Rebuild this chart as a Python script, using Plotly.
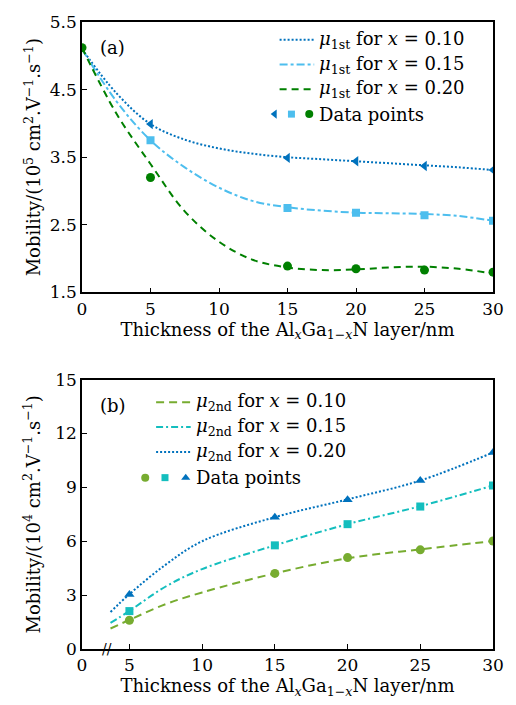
import plotly.graph_objects as go

# ---------------- data: panel (a), first-subband mobility (10^5 cm^2/V/s) ----------------
t_pts = [5, 15, 20, 25, 30]
t_pts0 = [0, 5, 15, 20, 25, 30]
mu1_x010 = [3.99, 3.49, 3.44, 3.37, 3.31]
mu1_x015 = [3.75, 2.75, 2.68, 2.64, 2.56]
mu1_x020 = [5.12, 3.20, 1.89, 1.85, 1.83, 1.80]

# fitted curves for panel (a)
t_fit_a = [0, 2.5, 5, 7.5, 10, 12.5, 15, 17.5, 20, 22.5, 25, 27.5, 30]
fit1_x010 = [5.10, 4.45, 3.99, 3.76, 3.63, 3.55, 3.50, 3.47, 3.44, 3.41, 3.38, 3.35, 3.31]
fit1_x015 = [5.10, 4.33, 3.75, 3.35, 3.05, 2.85, 2.76, 2.71, 2.68, 2.67, 2.66, 2.63, 2.56]
fit1_x020 = [5.12, 4.15, 3.40, 2.70, 2.25, 1.98, 1.87, 1.83, 1.84, 1.87, 1.88, 1.85, 1.78]

# ---------------- data: panel (b), second-subband mobility (10^4 cm^2/V/s) ----------------
mu2_x010 = [1.60, 4.21, 5.09, 5.52, 6.01]
mu2_x015 = [2.11, 5.77, 6.95, 7.93, 9.10]
mu2_x020 = [3.03, 7.34, 8.31, 9.38, 10.94]

# fitted curves for panel (b)
t_fit_b = [3.7, 5, 7.5, 10, 15, 20, 25, 30]
fit2_x010 = [1.14, 1.62, 2.50, 3.15, 4.21, 5.05, 5.55, 6.01]
fit2_x015 = [1.45, 2.12, 3.48, 4.45, 5.77, 6.95, 7.95, 9.10]
fit2_x020 = [2.06, 3.05, 4.70, 6.00, 7.34, 8.33, 9.38, 10.94]

x_ticks = [0, 5, 10, 15, 20, 25, 30]
xb_start = 1.74  # left end of the broken axis in panel (b), labelled "0"

# colours
C_BLUE = "#0072BD"
C_LBLUE = "#4DBEEE"
C_DGREEN = "#008000"
C_LGREEN = "#77AC30"
C_CYAN = "#14BEBE"

FONT = "DejaVu Serif"
FS = 17   # tick labels
FT = 18   # titles, legend, tags

fig = go.Figure()


def curve(x, y, color, dash, xa, ya):
    fig.add_trace(go.Scatter(x=x, y=y, mode="lines", line=dict(color=color, width=2, dash=dash, shape="spline", smoothing=1.0),
                             xaxis=xa, yaxis=ya, showlegend=False, hoverinfo="skip"))


def points(x, y, color, symbol, xa, ya, size=9):
    fig.add_trace(go.Scatter(x=x, y=y, mode="markers", marker=dict(color=color, symbol=symbol, size=size, line=dict(width=0)),
                             xaxis=xa, yaxis=ya, showlegend=False, hoverinfo="skip"))


# panel (a)
curve(t_fit_a, fit1_x010, C_BLUE, "2px,2px", "x", "y")
curve(t_fit_a, fit1_x015, C_LBLUE, "8px,3px,3px,3px", "x", "y")
curve(t_fit_a, fit1_x020, C_DGREEN, "7px,5px", "x", "y")
points(t_pts, mu1_x010, C_BLUE, "triangle-left", "x", "y")
points(t_pts, mu1_x015, C_LBLUE, "square", "x", "y", 8)
points(t_pts0, mu1_x020, C_DGREEN, "circle", "x", "y")

# panel (b)
curve(t_fit_b, fit2_x010, C_LGREEN, "8px,5px", "x2", "y2")
curve(t_fit_b, fit2_x015, C_CYAN, "7px,3px,2px,3px", "x2", "y2")
curve(t_fit_b, fit2_x020, C_BLUE, "2px,2px", "x2", "y2")
points(t_pts, mu2_x010, C_LGREEN, "circle", "x2", "y2")
points(t_pts, mu2_x015, C_CYAN, "square", "x2", "y2", 8)
points(t_pts, mu2_x020, C_BLUE, "triangle-up", "x2", "y2")

# ---------------- hand-built legends on a pixel overlay (x3/y3) ----------------
def leg_line(x0, x1, y, color, dash):
    fig.add_trace(go.Scatter(x=[x0, x1], y=[y, y], mode="lines", line=dict(color=color, width=2, dash=dash),
                             xaxis="x3", yaxis="y3", showlegend=False, hoverinfo="skip", cliponaxis=False))


def leg_mark(x, y, color, symbol, size=9):
    fig.add_trace(go.Scatter(x=[x], y=[y], mode="markers", marker=dict(color=color, symbol=symbol, size=size, line=dict(width=0)),
                             xaxis="x3", yaxis="y3", showlegend=False, hoverinfo="skip", cliponaxis=False))


def leg_text(x, y, text):
    fig.add_annotation(x=x, y=y, xref="x3", yref="y3", text=text, showarrow=False, xanchor="left", yanchor="middle",
                       font=dict(family=FONT, size=FT, color="black"))


mu1 = "<i>μ</i><sub>1st</sub> for <i>x</i> = "
mu2 = "<i>μ</i><sub>2nd</sub> for <i>x</i> = "

# legend (a)
rows_a = [34, 59, 84, 109]
leg_line(282, 317, rows_a[0], C_BLUE, "2px,2px")
leg_text(320, rows_a[0], mu1 + "0.10")
leg_line(282, 317, rows_a[1], C_LBLUE, "8px,3px,3px,3px")
leg_text(320, rows_a[1], mu1 + "0.15")
leg_line(282, 317, rows_a[2], C_DGREEN, "7px,5px")
leg_text(320, rows_a[2], mu1 + "0.20")
leg_mark(277, rows_a[3], C_BLUE, "triangle-left", 8)
leg_mark(294, rows_a[3], C_LBLUE, "square", 7)
leg_mark(312, rows_a[3], C_DGREEN, "circle", 8)
leg_text(320, rows_a[3], "Data points")

# legend (b)
rows_b = [400, 425, 450, 476]
leg_line(157, 192, rows_b[0], C_LGREEN, "8px,5px")
leg_text(195, rows_b[0], mu2 + "0.10")
leg_line(157, 192, rows_b[1], C_CYAN, "7px,3px,2px,3px")
leg_text(195, rows_b[1], mu2 + "0.15")
leg_line(157, 192, rows_b[2], C_BLUE, "2px,2px")
leg_text(195, rows_b[2], mu2 + "0.20")
leg_mark(146, rows_b[3], C_LGREEN, "circle", 8)
leg_mark(166, rows_b[3], C_CYAN, "square", 7)
leg_mark(187, rows_b[3], C_BLUE, "triangle-up", 8)
leg_text(195, rows_b[3], "Data points")

# panel tags
leg_text(98, 42, "(a)")
leg_text(98, 403, "(b)")

# axis-break mark on panel (b)
fig.add_annotation(x=3.45, y=0, xref="x2", yref="y2", text="//", showarrow=False,
                   font=dict(family=FONT, size=14, color="black"), xanchor="center", yanchor="middle")

# ---------------- axes ----------------
xtitle = "Thickness of the Al<sub><i>x</i></sub>Ga<sub>1−<i>x</i></sub>N layer/nm"
axis_common = dict(showline=True, linecolor="black", linewidth=1.5, mirror=True, ticks="inside", ticklen=5,
                   tickwidth=1, tickcolor="black", showgrid=False, zeroline=False,
                   tickfont=dict(family=FONT, size=FS, color="black"))

fig.update_layout(
    width=516, height=705,
    margin=dict(l=82, r=18, t=16, b=56),
    paper_bgcolor="white", plot_bgcolor="rgba(0,0,0,0)",
    font=dict(family=FONT, size=FS, color="black"),
    xaxis=dict(domain=[0, 1], anchor="y", range=[0, 30], tickvals=x_ticks,
               title=dict(text=xtitle, standoff=4, font=dict(family=FONT, size=FT)), **axis_common),
    yaxis=dict(domain=[0.5687, 1], anchor="x", range=[1.5, 5.5], tickvals=[1.5, 2.5, 3.5, 4.5, 5.5],
               ticktext=["1.5", "2.5", "3.5", "4.5", "5.5"],
               title=dict(text="Mobility/(10<sup>5</sup> cm<sup>2</sup>.V<sup>−1</sup>.s<sup>−1</sup>)", standoff=4,
                          font=dict(family=FONT, size=FT)), **axis_common),
    xaxis2=dict(domain=[0, 1], anchor="y2", range=[xb_start, 30], tickvals=[xb_start] + x_ticks[1:],
                ticktext=[str(v) for v in x_ticks],
                title=dict(text=xtitle, standoff=4, font=dict(family=FONT, size=FT)), **axis_common),
    yaxis2=dict(domain=[0, 0.4297], anchor="x2", range=[0, 15], tickvals=[0, 3, 6, 9, 12, 15],
                title=dict(text="Mobility/(10<sup>4</sup> cm<sup>2</sup>.V<sup>−1</sup>.s<sup>−1</sup>)", standoff=10,
                           font=dict(family=FONT, size=FT)), **axis_common),
    xaxis3=dict(domain=[0, 1], anchor="y3", range=[82, 498], visible=False, fixedrange=True),
    yaxis3=dict(domain=[0, 1], anchor="x3", range=[649, 16], visible=False, fixedrange=True),
)

fig.write_html("out.html")
